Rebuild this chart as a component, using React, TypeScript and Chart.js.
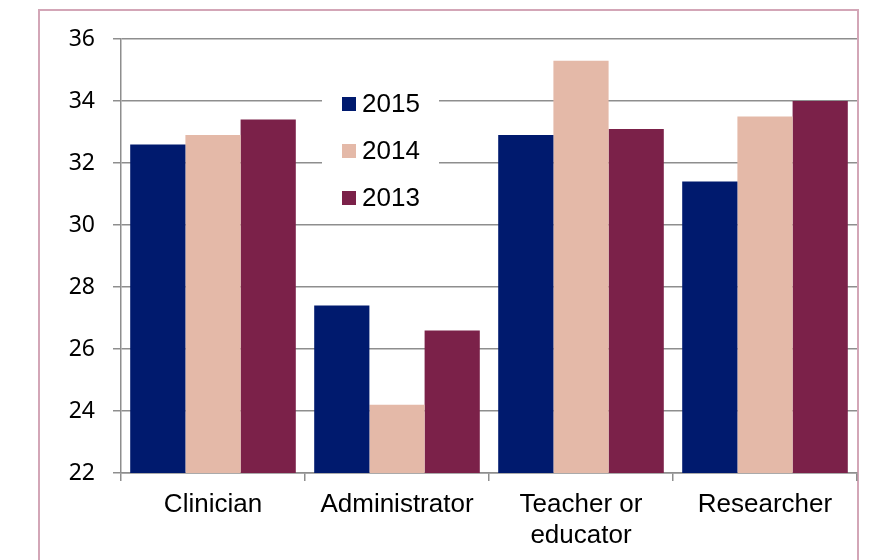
import React, { useEffect, useRef } from "react";
import { Chart, registerables } from "chart.js";

Chart.register(...registerables);

const categories: (string | string[])[] = ["Clinician", "Administrator", ["Teacher or", "educator"], "Researcher"];
const seriesLabels = ["2015", "2014", "2013"];
const values2015 = [32.6, 27.4, 32.9, 31.4];
const values2014 = [32.9, 24.2, 35.3, 33.5];
const values2013 = [33.4, 26.6, 33.1, 34.0];
const seriesColors = ["#001a6e", "#e4b9a8", "#7b2149"];
const yMin = 22;
const yMax = 36;
const yStep = 2;

const borderPlugin = {
  id: "outerBorder",
  beforeDraw(chart: any) {
    const ctx = chart.ctx;
    ctx.save();
    ctx.fillStyle = "#ffffff";
    ctx.fillRect(0, 0, chart.width, chart.height);
    ctx.strokeStyle = "#d3a6b7";
    ctx.lineWidth = 2;
    ctx.strokeRect(39, 10, 819, 620);
    ctx.restore();
  },
};

const legendPlugin = {
  id: "innerLegend",
  beforeDatasetsDraw(chart: any) {
    const ctx = chart.ctx;
    const ds = chart.data.datasets;
    ctx.save();
    ctx.fillStyle = "#ffffff";
    ctx.fillRect(322, 80, 117, 138);
    ctx.font = "26px 'Liberation Sans', Arial, sans-serif";
    ctx.textBaseline = "middle";
    ctx.textAlign = "left";
    ds.forEach((d: any, i: number) => {
      const cy = 104 + i * 47;
      ctx.fillStyle = d.backgroundColor;
      ctx.fillRect(342, cy - 7, 14, 14);
      ctx.fillStyle = "#000000";
      ctx.fillText(d.label, 362, cy + 1);
    });
    ctx.restore();
  },
};

export default function App() {
  const ref = useRef<HTMLCanvasElement | null>(null);
  useEffect(() => {
    if (!ref.current) return;
    const chart = new Chart(ref.current, {
      type: "bar",
      data: {
        labels: categories,
        datasets: [values2015, values2014, values2013].map((vals, i) => ({
          label: seriesLabels[i],
          data: vals,
          backgroundColor: seriesColors[i],
          borderWidth: 0,
          categoryPercentage: 0.9,
          barPercentage: 1.0,
        })),
      },
      options: {
        responsive: false,
        animation: false,
        layout: { padding: { left: 0, top: 39, right: 17, bottom: 0 } },
        plugins: {
          legend: { display: false },
          tooltip: { enabled: false },
        },
        scales: {
          x: {
            grid: {
              offset: true,
              drawOnChartArea: false,
              drawTicks: true,
              tickLength: 8,
              color: "#8e8e8e",
              lineWidth: 1.5,
            },
            border: { display: true, color: "#8e8e8e", width: 1.5 },
            ticks: {
              color: "#000000",
              padding: 8,
              maxRotation: 0,
              autoSkip: false,
              font: { family: "'Liberation Sans', Arial, sans-serif", size: 26, lineHeight: 1.2 },
            },
            afterFit(scale: any) {
              scale.height = 87;
            },
          },
          y: {
            min: yMin,
            max: yMax,
            grid: {
              drawTicks: true,
              tickLength: 8,
              color: "#8e8e8e",
              lineWidth: 1.5,
            },
            border: { display: true, color: "#8e8e8e", width: 1.5 },
            ticks: {
              stepSize: yStep,
              color: "#000000",
              padding: 18,
              font: { family: "'Noto Sans', sans-serif", size: 23 },
            },
            afterFit(scale: any) {
              scale.width = 121;
            },
          },
        },
      },
      plugins: [borderPlugin, legendPlugin],
    });
    return () => chart.destroy();
  }, []);
  return (
    <div style={{ position: "absolute", left: 0, top: 0, width: 874, height: 560 }}>
      <canvas ref={ref} width={874} height={560} />
    </div>
  );
}
